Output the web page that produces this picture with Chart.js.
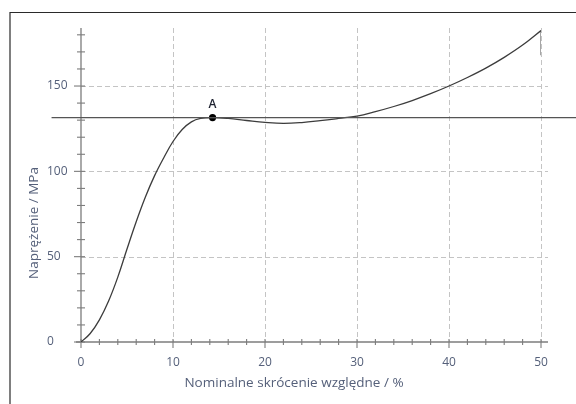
<!DOCTYPE html>
<html><head><meta charset="utf-8">
<script src="https://cdn.jsdelivr.net/npm/chart.js@4/dist/chart.umd.min.js"></script>
<style>html,body{margin:0;padding:0;background:#fff;overflow:hidden}</style>
</head><body><canvas id="c" width="576" height="404"></canvas>
<script>
// ---- data ----
const strain = [0,1,2,3,4,5,6,7,8,9,10,11,12,13,14.3,16,18,20,22,24,26,28,30,32,34,36,38,40,42,44,46,48,50];
const stress = [0,5,13,24,38,54.5,70.5,85,97.5,108,117.5,124.5,129,131,131.5,131,129.8,128.7,128.1,128.6,129.7,131,132.4,135,138,141.5,145.5,150,155,160.5,166.8,174,182.5];
const dropStrain = [50, 50];
const dropStress = [182.5, 168];
const pointAStrain = [14.3];
const pointAStress = [131.5];
const pointALabel = 'A';
const refLineStrain = [-3.2, 56];
const refLineStress = [131.5, 131.5];
const xMajorTicks = [0,10,20,30,40,50];
const yMajorTicks = [0,50,100,150];
const xTitle = 'Nominalne skrócenie względne / %';
const yTitle = 'Naprężenie / MPa';

const TXT = '#55607a';
const FONT = 'Open Sans';
const toPts = (xs, ys) => xs.map((x, i) => ({x, y: ys[i]}));

const decor = {
  id: 'decor',
  beforeDatasetsDraw(chart) {
    const {ctx, chartArea: a} = chart;
    const xs = chart.scales.x, ys = chart.scales.y;
    const xEnd = xs.getPixelForValue(50) + 7;
    ctx.save();
    ctx.lineWidth = 1;
    ctx.strokeStyle = '#c4c4c4';
    ctx.setLineDash([5, 3]);
    xMajorTicks.filter(v => v > 0).forEach(v => {
      const px = Math.round(xs.getPixelForValue(v)) + 0.5;
      ctx.beginPath(); ctx.moveTo(px, a.top); ctx.lineTo(px, a.bottom); ctx.stroke();
    });
    yMajorTicks.filter(v => v > 0).forEach(v => {
      const py = Math.round(ys.getPixelForValue(v)) + 0.5;
      ctx.beginPath(); ctx.moveTo(a.left, py); ctx.lineTo(xEnd, py); ctx.stroke();
    });
    ctx.setLineDash([]);
    ctx.strokeStyle = '#7c7c7c';
    ctx.lineWidth = 1.3;
    const x0 = xs.getPixelForValue(0), y0 = ys.getPixelForValue(0);
    ctx.beginPath(); ctx.moveTo(x0 - 5, y0); ctx.lineTo(xEnd, y0); ctx.stroke();
    ctx.beginPath(); ctx.moveTo(x0, a.top); ctx.lineTo(x0, y0); ctx.stroke();
    ctx.lineWidth = 1.1;
    for (let v = 0; v <= 50; v += 2) {
      const px = xs.getPixelForValue(v);
      ctx.beginPath();
      if (v % 10 === 0) { ctx.moveTo(px, y0 - 3); ctx.lineTo(px, y0 + 6); }
      else { ctx.moveTo(px, y0 - 3); ctx.lineTo(px, y0 + 3); }
      ctx.stroke();
    }
    for (let v = 0; v <= 180; v += 10) {
      const py = ys.getPixelForValue(v);
      ctx.beginPath();
      if (v % 50 === 0) { ctx.moveTo(x0 - 7, py); ctx.lineTo(x0 + 4, py); }
      else { ctx.moveTo(x0 - 4, py); ctx.lineTo(x0 + 4, py); }
      ctx.stroke();
    }
    ctx.restore();
  },
  afterDraw(chart) {
    const {ctx} = chart;
    const xs = chart.scales.x, ys = chart.scales.y;
    ctx.save();
    ctx.strokeStyle = '#2a2a2a';
    ctx.lineWidth = 1.2;
    ctx.beginPath(); ctx.moveTo(10, 404); ctx.lineTo(10, 12.5); ctx.lineTo(576, 12.5); ctx.stroke();
    ctx.fillStyle = '#1e2230';
    ctx.font = '600 12px "' + FONT + '"';
    ctx.textAlign = 'center'; ctx.textBaseline = 'middle';
    ctx.fillText(pointALabel, xs.getPixelForValue(pointAStrain[0]), ys.getPixelForValue(pointAStress[0]) - 13);
    ctx.fillStyle = TXT;
    ctx.font = '13.5px "' + FONT + '"';
    ctx.translate(34, 223);
    ctx.rotate(-Math.PI / 2);
    ctx.fillText(yTitle, 0, 0);
    ctx.restore();
  }
};

new Chart(document.getElementById('c'), {
  type: 'scatter',
  data: {
    datasets: [
      {data: toPts(refLineStrain, refLineStress), showLine: true, borderColor: '#555', borderWidth: 1.2, pointRadius: 0, clip: false},
      {data: toPts(strain, stress), showLine: true, borderColor: '#3c3c3c', borderWidth: 1.3, pointRadius: 0, tension: 0.4},
      {data: toPts(dropStrain, dropStress), showLine: true, borderColor: '#777', borderWidth: 1.3, pointRadius: 0},
      {data: toPts(pointAStrain, pointAStress), pointRadius: 3.6, backgroundColor: '#000', borderColor: '#000', borderWidth: 0}
    ]
  },
  options: {
    responsive: false, animation: false, devicePixelRatio: 1,
    layout: {padding: {left: 47, right: 35, top: 28, bottom: 0}},
    plugins: {
      legend: {display: false}, tooltip: {enabled: false},
      title: {display: true, position: 'bottom', text: xTitle, color: TXT,
              font: {family: FONT, size: 13.5, weight: 'normal'}, padding: {top: 0, bottom: 13}}
    },
    scales: {
      x: {type: 'linear', min: 0, max: 50, grid: {display: false}, border: {display: false},
          ticks: {stepSize: 10, color: TXT, font: {family: FONT, size: 12}, padding: 5},
          afterFit(s) { s.height = 404 - 342 - (13.5 * 1.2 + 13); }},
      y: {type: 'linear', min: 0, max: 184, grid: {display: false}, border: {display: false},
          ticks: {stepSize: 10, autoSkip: false, crossAlign: 'far', color: TXT, font: {family: FONT, size: 12},
                  callback: v => (yMajorTicks.includes(v) ? String(v) : '')},
          afterFit(s) { s.width = 34; }}
    }
  },
  plugins: [decor]
});
</script></body></html>
